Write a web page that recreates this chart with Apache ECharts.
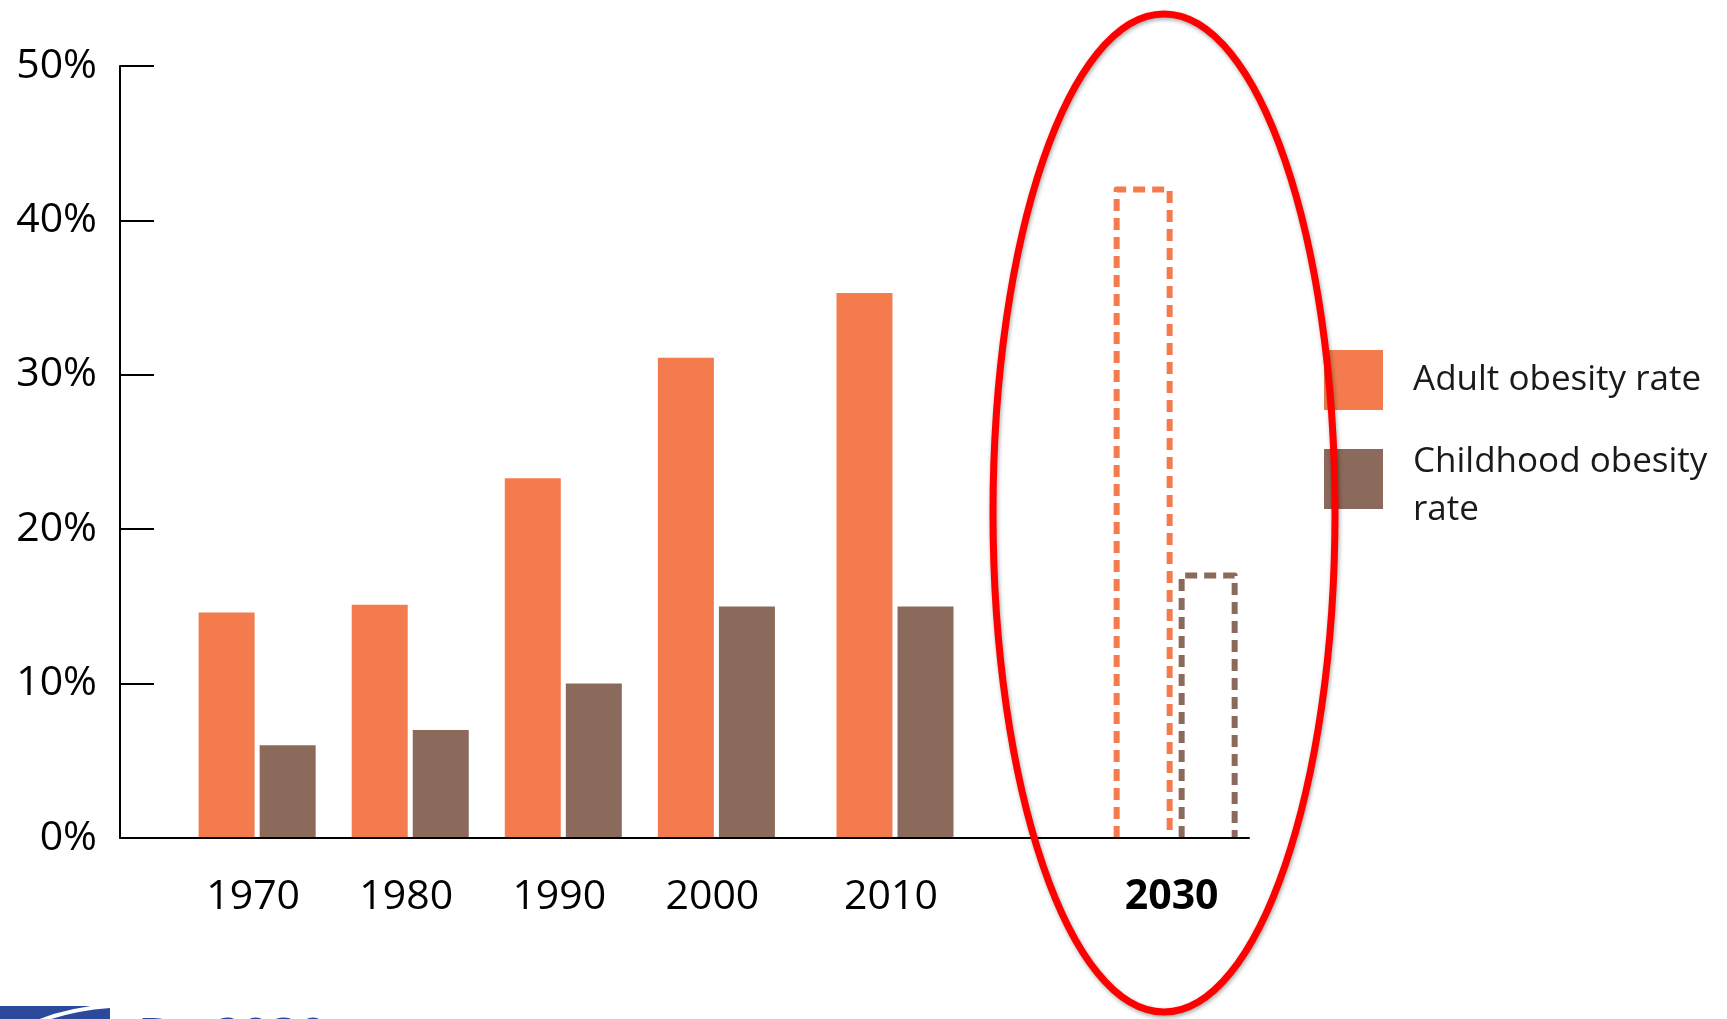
<!DOCTYPE html>
<html><head><meta charset="utf-8">
<script src="https://cdn.jsdelivr.net/npm/echarts@6/dist/echarts.min.js"></script>
<style>html,body{margin:0;padding:0;background:#fff;} #c{width:1727px;height:1019px;}</style>
</head><body><div id="c"></div>
<script>
// ---- data ----
const years = ['1970', '1980', '1990', '2000', '2010', '2030'];
const adultRate = [14.6, 15.1, 23.3, 31.1, 35.3, 42.0];
const childRate = [6.0, 7.0, 10.0, 15.0, 15.0, 17.0];
const projectedYears = ['2030'];
const yTicks = [0, 10, 20, 30, 40, 50];
const seriesNames = ['Adult obesity rate', 'Childhood obesity rate'];
const legendLabels = ['{t|Adult obesity rate}', '{s|}\n{t|Childhood obesity}\n{t|rate}'];

// ---- layout (uneven spacing of the year groups, in axis slots) ----
const SLOT_FIRST = 21, SLOT_STEPS = [24, 24, 24, 28, 44], SLOT_COUNT = 177;
const slots = [SLOT_FIRST];
SLOT_STEPS.forEach(s => slots.push(slots[slots.length - 1] + s));

const ORANGE = '#F37B4D', BROWN = '#8C6A5B', FONT = 'Open Sans';
const BAR_W = 56, PROJ_W = 53, PROJ_OFF = 32.5;

const categories = [];
for (let i = 0; i < SLOT_COUNT; i++) {
  const k = slots.indexOf(i);
  if (k < 0) { categories.push(''); continue; }
  const y = years[k];
  categories.push(projectedYears.includes(y) ? { value: y, textStyle: { fontWeight: 'bold' } } : y);
}
function barData(vals) {
  const d = new Array(SLOT_COUNT).fill(null);
  years.forEach((y, k) => { if (!projectedYears.includes(y)) d[slots[k]] = vals[k]; });
  return d;
}
function projData(vals) {
  return years.map((y, k) => projectedYears.includes(y) ? [slots[k], vals[k]] : null).filter(Boolean);
}
function projRender(offset, color) {
  return function (params, api) {
    const top = api.coord([api.value(0), api.value(1)]);
    const base = api.coord([api.value(0), 0]);
    const cx = top[0] + offset, hw = PROJ_W / 2;
    return {
      type: 'polyline',
      shape: { points: [[cx - hw, base[1]], [cx - hw, top[1]], [cx + hw, top[1]], [cx + hw, base[1]]] },
      style: { fill: null, stroke: color, lineWidth: 6, lineDash: [12, 7], lineJoin: 'round' }
    };
  };
}

const chart = echarts.init(document.getElementById('c'));
chart.setOption({
  animation: false,
  backgroundColor: '#fff',
  grid: { left: 120, top: 66, width: 1129, height: 772 },
  legend: {
    orient: 'vertical', left: 1324, top: 350, padding: 0,
    itemWidth: 59, itemHeight: 60, itemGap: 14, icon: 'rect',
    selectedMode: false,
    data: seriesNames,
    formatter: n => legendLabels[seriesNames.indexOf(n)],
    textStyle: {
      fontFamily: FONT, fontSize: 35, lineHeight: 48, color: '#1a1a1a', padding: [0, 0, 0, 25],
      rich: {
        t: { fontFamily: FONT, fontSize: 35, lineHeight: 48, color: '#1a1a1a' },
        s: { fontSize: 10, lineHeight: 14 }
      }
    }
  },
  xAxis: {
    type: 'category', data: categories, boundaryGap: true, z: 5,
    axisLine: { lineStyle: { color: '#000', width: 2 } },
    axisTick: { show: false },
    axisLabel: { interval: 0, fontFamily: FONT, fontSize: 41, color: '#000', margin: 39, padding: [0, 8, 0, 0] }
  },
  yAxis: {
    type: 'value', min: yTicks[0], max: yTicks[yTicks.length - 1], interval: yTicks[1] - yTicks[0],
    axisLine: { show: true, lineStyle: { color: '#000', width: 2 } },
    axisTick: { show: true, inside: true, length: 34, lineStyle: { color: '#000', width: 2 } },
    splitLine: { show: false },
    axisLabel: { formatter: '{value}%', fontFamily: FONT, fontSize: 41, color: '#000', margin: 23 }
  },
  series: [
    { name: seriesNames[0], type: 'bar', data: barData(adultRate), barWidth: BAR_W, barGap: '9%', itemStyle: { color: ORANGE } },
    { name: seriesNames[1], type: 'bar', data: barData(childRate), barWidth: BAR_W, barGap: '9%', itemStyle: { color: BROWN } },
    { name: seriesNames[0], type: 'custom', data: projData(adultRate), encode: { x: 0, y: 1 }, itemStyle: { color: ORANGE }, renderItem: projRender(-PROJ_OFF, ORANGE) },
    { name: seriesNames[1], type: 'custom', data: projData(childRate), encode: { x: 0, y: 1 }, itemStyle: { color: BROWN }, renderItem: projRender(PROJ_OFF, BROWN) }
  ],
  graphic: [
    { type: 'ellipse', z: 100, silent: true,
      shape: { cx: 1164, cy: 513, rx: 171, ry: 499 },
      style: { fill: null, stroke: '#ff0000', lineWidth: 7, shadowBlur: 4, shadowColor: 'rgba(0,0,0,0.35)', shadowOffsetX: 1, shadowOffsetY: 2 } },
    { type: 'polygon', z: 100, silent: true,
      shape: { points: [[0, 1006], [86, 1006], [110, 1007], [110, 1019], [0, 1019]] },
      style: { fill: '#2c4a9c' } },
    { type: 'bezierCurve', z: 101, silent: true,
      shape: { x1: 40, y1: 1021, cpx1: 70, cpy1: 1009, x2: 110, y2: 1006 },
      style: { stroke: '#fff', lineWidth: 4, fill: null } },
    { type: 'text', z: 100, silent: true, x: 138, y: 1015,
      style: { text: 'By 2030', fontFamily: FONT, fontSize: 50, fontWeight: 'bold', fill: '#2c4a9c', verticalAlign: 'top' } }
  ]
});
</script></body></html>
